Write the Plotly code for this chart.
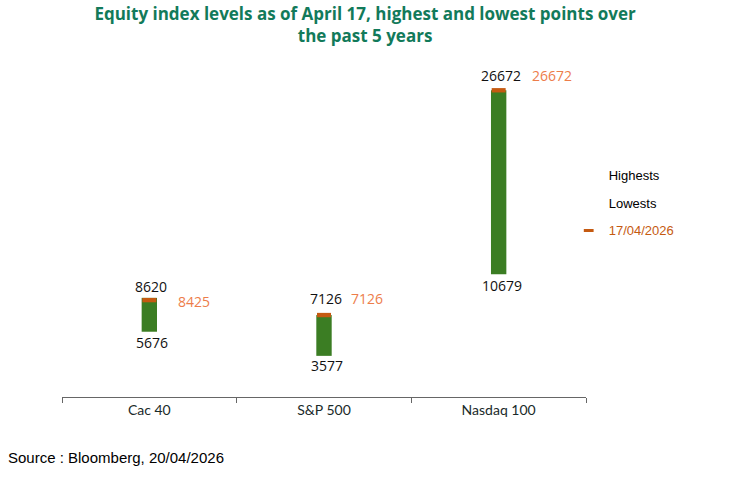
import plotly.graph_objects as go

categories = ["Cac 40", "S&P 500", "Nasdaq 100"]
highs = [8620, 7126, 26672]
lows = [5676, 3577, 10679]
current = [8425, 7126, 26672]
current_label = "17/04/2026"

# style offsets (pixels) for labels
high_yshift = [11, 17, 15]
low_yshift = [-11, -10, -11]
cur_xshift = [45, 43, 53]
cur_yshift = [-1, 17, 15]

GREEN = "#3B7D23"
ORANGE = "#C55A11"
ORANGE_TXT = "#ED7D4A"
TITLE = "#127A5A"

fig = go.Figure()
fig.add_trace(go.Bar(
    x=categories, y=[h - l for h, l in zip(highs, lows)], base=lows,
    marker=dict(color=GREEN, line=dict(width=0)), width=0.088,
    showlegend=False, hoverinfo="skip"))
mh = 380
fig.add_trace(go.Bar(
    x=categories, y=[mh] * 3, base=[c - mh / 2 for c in current],
    marker=dict(color=ORANGE, line=dict(width=0)), width=0.08,
    showlegend=False, hoverinfo="skip"))

# legend entries
fig.add_trace(go.Scatter(x=[None], y=[None], mode="markers", name="Highests",
                         marker=dict(color="rgba(0,0,0,0)"), legendgroup="a"))
fig.add_trace(go.Scatter(x=[None], y=[None], mode="markers", name="Lowests",
                         marker=dict(color="rgba(0,0,0,0)"), legendgroup="b"))
fig.add_trace(go.Scatter(x=[None], y=[None], mode="markers",
                         name=f"<span style='color:{ORANGE}'>{current_label}</span>",
                         marker=dict(symbol="line-ew", size=7, line=dict(width=3, color=ORANGE)),
                         legendgroup="c"))

lab_font = dict(family="Open Sans, Noto Sans, sans-serif", size=14, color="#111111")
for i, c in enumerate(categories):
    fig.add_annotation(x=c, y=highs[i], text=str(highs[i]), showarrow=False,
                       yshift=high_yshift[i], xshift=2, font=lab_font)
    fig.add_annotation(x=c, y=lows[i], text=str(lows[i]), showarrow=False,
                       yshift=low_yshift[i], xshift=3, font=lab_font)
    fig.add_annotation(x=c, y=current[i], text=str(current[i]), showarrow=False,
                       yshift=cur_yshift[i], xshift=cur_xshift[i],
                       font=dict(family="Open Sans, Noto Sans, sans-serif", size=14, color=ORANGE_TXT))

fig.add_annotation(xref="paper", yref="paper", x=-0.107, y=-0.205, xanchor="left",
                   text="Source : Bloomberg, 20/04/2026", showarrow=False,
                   font=dict(family="Liberation Sans, Arial, sans-serif", size=15, color="#000000"))

fig.update_layout(
    width=742, height=485,
    margin=dict(l=62, r=156, t=52, b=88),
    plot_bgcolor="white", paper_bgcolor="white",
    barmode="overlay",
    title=dict(text="<b>Equity index levels as of April 17, highest and lowest points over<br>the past 5 years</b>",
               x=0.492, xanchor="center", y=0.958, yanchor="top",
               font=dict(family="Open Sans, sans-serif", size=17, color=TITLE)),
    xaxis=dict(type="category", range=[-0.5, 2.5], tickson="boundaries",
               showline=True, linecolor="#666666", linewidth=1,
               ticks="outside", ticklen=5, tickcolor="#666666",
               tickfont=dict(family="Lato, sans-serif", size=14, color="#1a2a2a"),
               showgrid=False),
    yaxis=dict(range=[0, 30000], visible=False, showgrid=False, zeroline=False),
    legend=dict(x=0.967, xanchor="left", y=0.688, yanchor="top",
                font=dict(family="Liberation Sans, Arial, sans-serif", size=13, color="#000000"),
                tracegroupgap=8, bgcolor="rgba(0,0,0,0)"),
    showlegend=True,
)

fig.write_html("out.html")
